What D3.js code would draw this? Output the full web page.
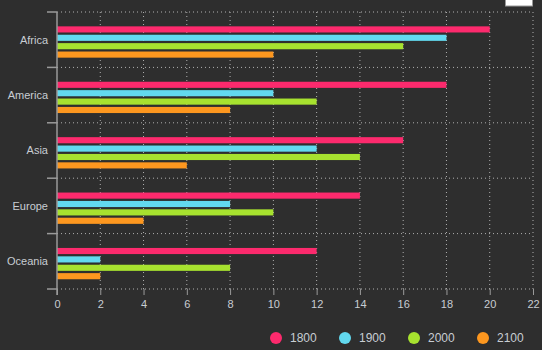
<!DOCTYPE html>
<html lang="en">
<head>
<meta charset="utf-8">
<script src="https://d3js.org/d3.v7.min.js"></script>
<style>
  body { margin: 0; background: #2e2e2e; }
  #chart text { font-family: "Liberation Sans", Arial, sans-serif; }
  .grid line { stroke: #b0b0b0; stroke-dasharray: 1,3; }
</style>
</head>
<body>
<svg id="chart" width="542" height="350"></svg>
<script>
let regions = ["Africa", "America", "Asia", "Europe", "Oceania"];
let years = ["1800", "1900", "2000", "2100"];
let v1800 = [20, 18, 16, 14, 12];
let v1900 = [18, 10, 12, 8, 2];
let v2000 = [16, 12, 14, 10, 8];
let v2100 = [10, 8, 6, 4, 2];
let xTicks = [0, 2, 4, 6, 8, 10, 12, 14, 16, 18, 20, 22];
let colors = ["#fc2a6d", "#62d9ef", "#a7e22f", "#fd971f"];

let series = [v1800, v1900, v2000, v2100];
let svg = d3.select("#chart");
let margin = {left: 57, right: 9, top: 12, bottom: 60};
let width = 542 - margin.left - margin.right;
let height = 350 - margin.top - margin.bottom - 1;

// little white button in the top right corner
svg.append("rect")
  .attr("x", 505.5).attr("y", -2).attr("width", 27).attr("height", 8)
  .attr("fill", "#fff").attr("stroke", "#999");

let g = svg.append("g").attr("transform", `translate(${margin.left},${margin.top})`);

let x = d3.scaleLinear().domain([0, 22]).range([0, width]);
let y = d3.scaleBand().domain(regions).range([0, height]);
let groupH = y.bandwidth() * 0.565;
let yInner = d3.scaleBand().domain(years).range([0, groupH]).paddingInner(0.27);

// grid
let grid = g.append("g").attr("class", "grid");
grid.selectAll(".gx").data(xTicks.slice(1)).enter().append("line")
  .attr("x1", d => x(d)).attr("x2", d => x(d))
  .attr("y1", 0).attr("y2", height);
let bounds = regions.map(r => y(r)).concat([height]);
grid.selectAll(".gy").data(bounds).enter().append("line")
  .attr("x1", 0).attr("x2", width)
  .attr("y1", d => d).attr("y2", d => d);

// bars
let rows = g.selectAll(".row").data(regions).enter().append("g")
  .attr("transform", r => `translate(0,${y(r) + (y.bandwidth() - groupH) / 2 + 2.3})`);
rows.selectAll("rect")
  .data((r, i) => years.map((yr, k) => ({yr: yr, v: series[k][i], k: k})))
  .enter().append("rect")
  .attr("x", 0)
  .attr("y", d => yInner(d.yr))
  .attr("width", d => x(d.v))
  .attr("height", yInner.bandwidth())
  .attr("fill", d => colors[d.k]);

// axes
let axisColor = "#9a9a9a";
let xAxis = g.append("g").attr("transform", `translate(0,${height})`)
  .call(d3.axisBottom(x).tickValues(xTicks).tickSize(6).tickSizeOuter(0));
xAxis.select(".domain").remove();
xAxis.selectAll("line").attr("stroke", axisColor);
xAxis.selectAll("text").attr("fill", "#c8cdd3").attr("font-size", 11).attr("dy", "0.9em");

let yAxis = g.append("g");
yAxis.append("line").attr("x1", 0).attr("x2", 0).attr("y1", 0).attr("y2", height + 6)
  .attr("stroke", axisColor).attr("stroke-width", 1.5);
yAxis.selectAll(".tk").data(bounds).enter().append("line")
  .attr("x1", -10).attr("x2", 0).attr("y1", d => d).attr("y2", d => d)
  .attr("stroke", axisColor).attr("stroke-width", 1.5);
yAxis.selectAll(".lbl").data(regions).enter().append("text")
  .attr("x", -9).attr("y", r => y(r) + y.bandwidth() / 2)
  .attr("dy", "0.35em").attr("text-anchor", "end")
  .attr("fill", "#c8cdd3").attr("font-size", 11)
  .text(r => r);

// legend
let lx = d3.scalePoint().domain(years).range([276, 483]);
let leg = svg.append("g").selectAll("g").data(years).enter().append("g")
  .attr("transform", d => `translate(${lx(d)},338)`);
leg.append("circle").attr("r", 6).attr("fill", (d, i) => colors[i]);
leg.append("text").attr("x", 14).attr("dy", "0.35em")
  .attr("fill", "#c8cdd3").attr("font-size", 12).text(d => d);
</script>
</body>
</html>
